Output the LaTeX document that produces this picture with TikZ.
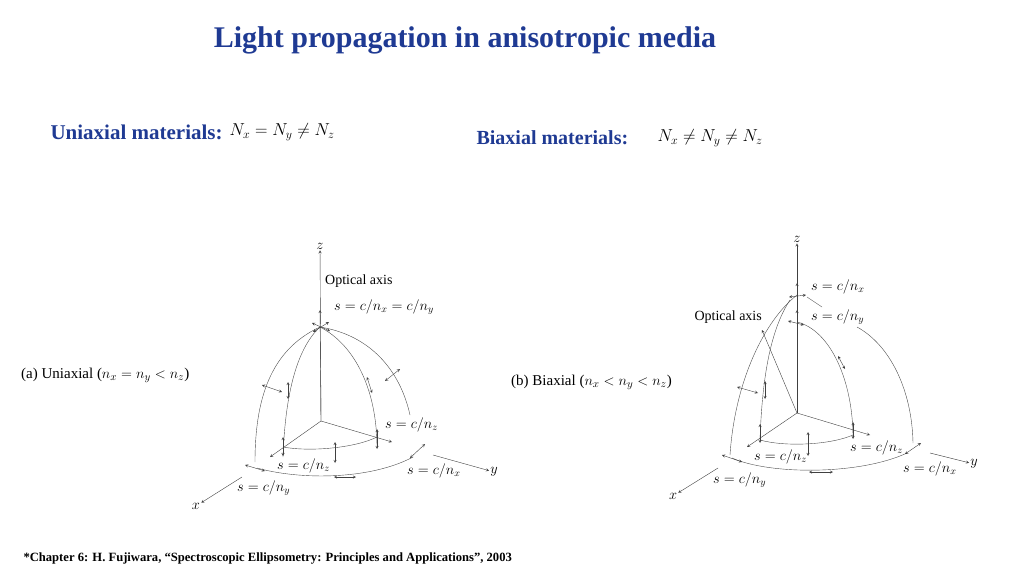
\documentclass[tikz,border=0pt]{standalone}
\usepackage{fontspec}
\setmainfont{Liberation Serif}
\usetikzlibrary{arrows}
\definecolor{titleblue}{HTML}{1F3A93}
\begin{document}
\begin{tikzpicture}[x=1pt,y=-1pt,
    head/.style ={font=\bfseries, text=titleblue},
    lbl/.style ={font=\fontsize{14}{16}\selectfont, inner sep=1pt},
    axis/.style ={thin, -stealth, draw=black!75},
    arc/.style ={thin, draw=black!70},
    dbl/.style ={thin, stealth-stealth, draw=black!75}]
    \useasboundingbox (0,0) rectangle (1024,576);

    % headings
    \node [head, font=\bfseries\fontsize{30}{34}\selectfont] (title) at (465,40) {Light propagation in anisotropic media};
    \node [head, font=\bfseries\fontsize{21}{24}\selectfont, anchor=west] (uni) at (47,132) {Uniaxial materials:};
    \node [anchor=west, font=\fontsize{17}{20}\selectfont] (unif) at (226,132) {$N_x = N_y \neq N_z$};
    \node [head, font=\bfseries\fontsize{20}{24}\selectfont, anchor=west] (bi) at (473,138) {Biaxial materials:};
    \node [anchor=west, font=\fontsize{17}{20}\selectfont] (bif) at (654,138) {$N_x \neq N_y \neq N_z$};
    \node [lbl, anchor=west, font=\fontsize{15}{17}\selectfont] (capa) at (20,375) {(a) Uniaxial ($n_x = n_y < n_z$)};
    \node [lbl, anchor=west, font=\fontsize{15}{17}\selectfont] (capb) at (510,382) {(b) Biaxial ($n_x < n_y < n_z$)};
    \node [anchor=west, font=\bfseries\fontsize{12.6}{14}\selectfont] (foot) at (20,558) {*Chapter 6: H. Fujiwara, “Spectroscopic Ellipsometry: Principles and Applications”, 2003};

    % (a) uniaxial
    \coordinate (ao) at (321,421);
    \coordinate (atop) at (320,327);
    \coordinate (axi) at (270,457);
    \coordinate (ayi) at (392,442);
    \coordinate (axo) at (242,477);
    \coordinate (ayo) at (433,455);
    \node [lbl] (az) at (320,246) {$z$};
    \node [lbl] (ax) at (196,506) {$x$};
    \node [lbl] (ay) at (494,472) {$y$};
    \draw [axis] (ao) -- (az);
    \draw [axis] (ao) -- (320,310);
    \draw [axis] (ao) -- (axi);
    \draw [axis] (ao) -- (ayi);
    \draw [axis] (axo) -- (ax);
    \draw [axis] (ayo) -- (ay);
    \draw [arc] (atop) .. controls (270,350) and (255,400) .. (255,462);
    \draw [arc] (atop) .. controls (295,350) and (285,400) .. (283,457);
    \draw [arc] (atop) .. controls (355,345) and (377,390) .. (377,448);
    \draw [arc] (atop) .. controls (370,335) and (400,370) .. (410,415);
    \draw [arc] (283,447) .. controls (310,452) and (355,448) .. (377,437);
    \draw [arc] (257,468) .. controls (300,480) and (370,480) .. (413,457);
    \draw [dbl] (312,323) -- (330,331);
    \draw [dbl] (313,332) -- (329,322);
    \draw [dbl] (262,385) -- (282,392);
    \draw [dbl] (288,382) -- (288,399);
    \draw [dbl] (367,377) -- (372,393);
    \draw [dbl] (385,381) -- (400,369);
    \draw [dbl] (283,437) -- (283,456);
    \draw [dbl] (335,442) -- (335,463);
    \draw [dbl] (377,429) -- (377,449);
    \draw [dbl] (245,465) -- (265,471);
    \draw [dbl] (334,477) -- (356,477);
    \draw [dbl] (410,458) -- (425,444);
    \node [lbl, anchor=west] (aopt) at (324,281) {Optical axis};
    \node [lbl, anchor=west] (as1) at (333,307) {$s = c/n_x = c/n_y$};
    \node [lbl, anchor=west] (as2) at (384,425) {$s = c/n_z$};
    \node [lbl, anchor=west] (as3) at (276,466) {$s = c/n_z$};
    \node [lbl, anchor=west] (as4) at (406,471) {$s = c/n_x$};
    \node [lbl, anchor=west] (as5) at (236,488) {$s = c/n_y$};

    % (b) biaxial
    \coordinate (bo) at (797,413);
    \coordinate (bxi) at (747,447);
    \coordinate (byi) at (870,435);
    \coordinate (bxo) at (718,468);
    \coordinate (byo) at (930,453);
    \node [lbl] (bz) at (797,239) {$z$};
    \node [lbl] (bx) at (673,496) {$x$};
    \node [lbl] (by) at (974,464) {$y$};
    \coordinate (boa) at (762,330);
    \draw [axis] (bo) -- (bz);
    \draw [axis] (bo) -- (797,283);
    \draw [axis] (bo) -- (797,310);
    \draw [axis] (bo) -- (boa);
    \draw [axis] (bo) -- (bxi);
    \draw [axis] (bo) -- (byi);
    \draw [axis] (bxo) -- (bx);
    \draw [axis] (byo) -- (by);
    \draw [arc] (797,295) .. controls (765,320) and (735,380) .. (730,455);
    \draw [arc] (790,300) .. controls (770,330) and (762,380) .. (760,440);
    \draw [arc] (797,322) .. controls (830,330) and (853,380) .. (853,438);
    \draw [arc] (857,327) .. controls (890,345) and (912,390) .. (913,443);
    \draw [arc] (807,297) -- (822,307);
    \draw [arc] (760,440) .. controls (785,447) and (830,445) .. (853,435);
    \draw [arc] (732,458) .. controls (770,475) and (860,475) .. (907,453);
    \draw [dbl] (789,297) -- (806,295);
    \draw [dbl] (737,387) -- (758,393);
    \draw [dbl] (765,381) -- (765,399);
    \draw [dbl] (760,424) -- (760,443);
    \draw [dbl] (808,432) -- (808,456);
    \draw [dbl] (853,422) -- (853,439);
    \draw [dbl] (838,356) -- (845,369);
    \draw [dbl] (788,321) -- (804,325);
    \draw [dbl] (722,455) -- (742,462);
    \draw [dbl] (809,472) -- (833,472);
    \draw [dbl] (905,454) -- (921,443);
    \node [lbl, anchor=east] (bopt) at (763,317) {Optical axis};
    \node [lbl, anchor=west] (bs1) at (810,287) {$s = c/n_x$};
    \node [lbl, anchor=west] (bs2) at (810,317) {$s = c/n_y$};
    \node [lbl, anchor=west] (bs3) at (849,448) {$s = c/n_z$};
    \node [lbl, anchor=west] (bs4) at (753,457) {$s = c/n_z$};
    \node [lbl, anchor=west] (bs5) at (902,469) {$s = c/n_x$};
    \node [lbl, anchor=west] (bs6) at (712,480) {$s = c/n_y$};
\end{tikzpicture}
\end{document}
